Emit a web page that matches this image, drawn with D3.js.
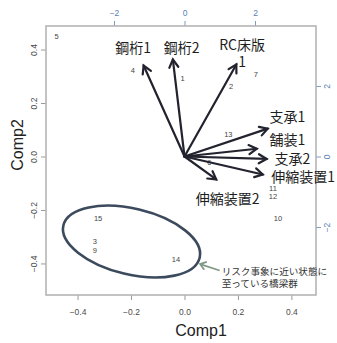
<!DOCTYPE html>
<html>
<head>
<meta charset="utf-8">
<script src="https://cdn.jsdelivr.net/npm/d3@7"></script>
<style>
  html, body { margin: 0; padding: 0; background: #fff; }
  svg { display: block; }
</style>
</head>
<body>
<script>
// Principal component biplot: bridge scores (Comp1/Comp2) and damage-item loadings.

// Observation scores
const obsLabels = ["1", "2", "3", "4", "5", "6", "7", "9", "10", "11", "12", "13", "14", "15"];
const obsComp1 = [-0.007, 0.174, -0.335, -0.193, -0.478, 0.093, 0.267, -0.335, 0.350, 0.331, 0.331, 0.164, -0.032, -0.323];
const obsComp2 = [0.293, 0.264, -0.318, 0.323, 0.450, -0.021, 0.308, -0.350, -0.230, -0.118, -0.148, 0.084, -0.384, -0.230];

// Variable loadings
const varNames = ["鋼桁1", "鋼桁2", "RC床版1", "支承1", "舗装1", "支承2", "伸縮装置1", "伸縮装置2"];
const varComp1 = [-1.16, -0.33, 1.47, 2.36, 2.05, 2.33, 2.22, 0.90];
const varComp2 = [2.58, 2.75, 2.61, 0.79, 0.22, -0.07, -0.51, -0.65];

// Tick values
const scoreTicks = [-0.4, -0.2, 0.0, 0.2, 0.4];
const loadingTicks = [-2, 0, 2];

// Highlighted group and its note
const groupCenter = [-0.198, -0.318];
const groupRadii = [0.262, 0.123];
const groupTilt = 13.4; // degrees, clockwise on screen
const noteLines = ["リスク事象に近い状態に", "至っている橋梁群"];
const noteAnchor = [0.139, -0.432];

const W = 337, H = 343;
const plot = { left: 46, right: 316, top: 26, bottom: 295 };

const svg = d3.select("body").append("svg").attr("width", W).attr("height", H);

const x = d3.scaleLinear().domain([-0.518, 0.492]).range([plot.left, plot.right]);
const y = d3.scaleLinear().domain([-0.518, 0.488]).range([plot.bottom, plot.top]);
const xl = d3.scaleLinear().domain([-3.929, 3.730]).range([plot.left, plot.right]);
const yl = d3.scaleLinear().domain([-3.929, 3.702]).range([plot.bottom, plot.top]);

const tickFont = "'Liberation Sans', Arial, sans-serif";
const jpFont = "'Noto Sans CJK JP', 'Noto Sans', sans-serif";
const grey = "#4a4a4a";
const blue = "#5a7fb4";

// Axes
function styleAxis(g, color) {
  g.select(".domain").remove();
  g.selectAll(".tick line").attr("stroke", color === blue ? "#7d9bc6" : "#9a9a9a").attr("stroke-width", 1);
  g.selectAll(".tick text").attr("fill", color).attr("font-family", tickFont).attr("font-size", 8.5);
}

const bottomAxis = svg.append("g").attr("transform", `translate(0,${plot.bottom})`)
  .call(d3.axisBottom(x).tickValues(scoreTicks).tickFormat(d3.format(".1f")).tickSize(5).tickPadding(9));
styleAxis(bottomAxis, grey);

const leftAxis = svg.append("g").attr("transform", `translate(${plot.left},0)`)
  .call(d3.axisLeft(y).tickValues(scoreTicks).tickFormat(d3.format(".1f")).tickSize(5).tickPadding(4));
styleAxis(leftAxis, grey);
leftAxis.selectAll(".tick text")
  .attr("text-anchor", "middle").attr("dy", 0)
  .attr("transform", "translate(-9,0) rotate(-90)").attr("x", 0).attr("y", 0);

const topAxis = svg.append("g").attr("transform", `translate(0,${plot.top})`)
  .call(d3.axisTop(xl).tickValues(loadingTicks).tickSize(5).tickPadding(5));
styleAxis(topAxis, blue);

const rightAxis = svg.append("g").attr("transform", `translate(${plot.right},0)`)
  .call(d3.axisRight(yl).tickValues(loadingTicks).tickSize(5).tickPadding(4));
styleAxis(rightAxis, blue);
rightAxis.selectAll(".tick text")
  .attr("text-anchor", "middle").attr("dy", 0)
  .attr("transform", "translate(14,0) rotate(-90)").attr("x", 0).attr("y", 0);

// Frame
svg.append("rect")
  .attr("x", plot.left).attr("y", plot.top)
  .attr("width", plot.right - plot.left).attr("height", plot.bottom - plot.top)
  .attr("fill", "none").attr("stroke", "#b5b5b5").attr("stroke-width", 1.6);

// Axis titles
svg.append("text").text("Comp1")
  .attr("x", 201).attr("y", 336)
  .attr("text-anchor", "middle")
  .attr("font-family", tickFont).attr("font-size", 16).attr("fill", "#222");
svg.append("text").text("Comp2")
  .attr("transform", "translate(23,145) rotate(-90)")
  .attr("text-anchor", "middle")
  .attr("font-family", tickFont).attr("font-size", 16).attr("fill", "#222");

// Observation labels
svg.append("g").selectAll("text")
  .data(obsLabels.map((l, i) => ({ l, c1: obsComp1[i], c2: obsComp2[i] })))
  .join("text")
  .attr("x", d => x(d.c1)).attr("y", d => y(d.c2))
  .attr("dy", "0.35em").attr("text-anchor", "middle")
  .attr("font-family", tickFont).attr("font-size", 7.5)
  .attr("fill", "#444")
  .text(d => d.l);

// Loading arrows
const arrowColor = "#22232e";
function arrowHead(x0, y0, x1, y1, len, spread) {
  const a = Math.atan2(y1 - y0, x1 - x0);
  const p1 = [x1 - len * Math.cos(a - spread), y1 - len * Math.sin(a - spread)];
  const p2 = [x1 - len * Math.cos(a + spread), y1 - len * Math.sin(a + spread)];
  return `M${p1[0]},${p1[1]}L${x1},${y1}L${p2[0]},${p2[1]}`;
}

const labelOffset = {
  "鋼桁1": [-10.5, -17.5],
  "鋼桁2": [8.7, -11.5],
  "RC床版1": [5.8, -20],
  "支承1": [19.7, -11.8],
  "舗装1": [30.7, -8.3],
  "支承2": [25.7, 0.2],
  "伸縮装置1": [40.4, 2],
  "伸縮装置2": [11.3, 20]
};

const ox = xl(0), oy = yl(0);
const arrows = svg.append("g");
varNames.forEach((name, i) => {
  const tx = xl(varComp1[i]), ty = yl(varComp2[i]);
  arrows.append("line")
    .attr("x1", ox).attr("y1", oy).attr("x2", tx).attr("y2", ty)
    .attr("stroke", arrowColor).attr("stroke-width", 2.2).attr("stroke-linecap", "round");
  arrows.append("path")
    .attr("d", arrowHead(ox, oy, tx, ty, 9, Math.PI / 6))
    .attr("fill", "none").attr("stroke", arrowColor).attr("stroke-width", 2.2)
    .attr("stroke-linejoin", "miter").attr("stroke-linecap", "round");

  const off = labelOffset[name];
  const lx = tx + off[0], ly = ty + off[1];
  const lines = name === "RC床版1" ? ["RC床版", "1"] : [name];
  const t = arrows.append("text")
    .attr("text-anchor", "middle")
    .attr("font-family", jpFont).attr("font-size", 14).attr("fill", "#1e1e1e");
  lines.forEach((s, k) => {
    t.append("tspan").attr("x", lx).attr("y", ly + k * 17.5).attr("dy", "0.36em").text(s);
  });
});

// Highlighted group
const ecx = x(groupCenter[0]), ecy = y(groupCenter[1]);
const erx = x(groupRadii[0]) - x(0), ery = y(0) - y(groupRadii[1]);
svg.append("ellipse")
  .attr("cx", ecx).attr("cy", ecy).attr("rx", erx).attr("ry", ery)
  .attr("transform", `rotate(${groupTilt},${ecx},${ecy})`)
  .attr("fill", "none").attr("stroke", "#3c4a5d").attr("stroke-width", 2.6);

// Note and pointer to the group
const nx = x(noteAnchor[0]), ny = y(noteAnchor[1]);
const note = svg.append("text")
  .attr("font-family", jpFont).attr("font-size", 9.6).attr("fill", "#333");
noteLines.forEach((s, k) => {
  note.append("tspan").attr("x", nx).attr("y", ny + k * 12).attr("dy", "0.36em").text(s);
});

const tailX = nx - 2, tailY = ny - 1.5;
// point on the ellipse along the ray from its center to the pointer tail
const th = groupTilt * Math.PI / 180;
const dx = tailX - ecx, dy = tailY - ecy;
const u = dx * Math.cos(th) + dy * Math.sin(th);
const v = -dx * Math.sin(th) + dy * Math.cos(th);
const sc = 1 / Math.sqrt((u / erx) ** 2 + (v / ery) ** 2);
const len = Math.hypot(dx, dy);
const hx = ecx + dx * sc + dx / len * 3, hy = ecy + dy * sc + dy / len * 3;
const noteColor = "#7f9a86";
svg.append("line")
  .attr("x1", tailX).attr("y1", tailY).attr("x2", hx).attr("y2", hy)
  .attr("stroke", noteColor).attr("stroke-width", 1.8);
svg.append("path")
  .attr("d", arrowHead(tailX, tailY, hx, hy, 7, Math.PI / 5))
  .attr("fill", "none").attr("stroke", noteColor).attr("stroke-width", 1.8);
</script>
</body>
</html>
